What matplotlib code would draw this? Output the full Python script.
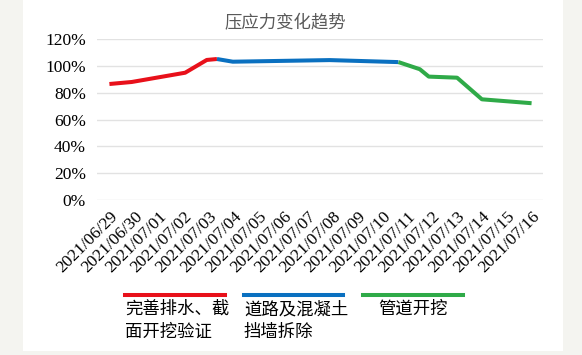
import matplotlib.pyplot as plt
from matplotlib.lines import Line2D
from matplotlib.patches import Rectangle
from matplotlib.ticker import FuncFormatter

plt.rcParams['font.family'] = ['serif']
plt.rcParams['font.serif'] = ['Liberation Serif', 'Times New Roman', 'DejaVu Serif']

dates = ['2021/06/29', '2021/06/30', '2021/07/01', '2021/07/02', '2021/07/03',
         '2021/07/04', '2021/07/05', '2021/07/06', '2021/07/07', '2021/07/08',
         '2021/07/09', '2021/07/10', '2021/07/11', '2021/07/12', '2021/07/13',
         '2021/07/14', '2021/07/15', '2021/07/16']

# day offsets from 2021/06/29 and stress ratio (%)
red_x = [0, 0.9, 3.05, 3.92, 4.33]
red_y = [86.5, 88.0, 94.9, 104.4, 105.1]
blue_x = [4.33, 4.97, 8.87, 11.64]
blue_y = [105.1, 103.1, 104.3, 102.8]
green_x = [11.64, 12.5, 12.86, 14.0, 15.0, 17.0]
green_y = [102.8, 97.5, 92.0, 91.2, 75.1, 72.2]

stages = ['完善排水、截\n面开挖验证', '道路及混凝土\n挡墙拆除', '管道开挖']
colors = ['#E8101A', '#0A70C0', '#2FAA48']

fig = plt.figure(figsize=(5.82, 3.55), dpi=100, facecolor='#F4F4F0')
fig.patches.append(Rectangle((23 / 582, 4 / 355), 540 / 582, 351 / 355,
                             transform=fig.transFigure, facecolor='white',
                             edgecolor='none', zorder=-10))

ax = fig.add_axes([97 / 582, 1 - 200.2 / 355, 446 / 582, 161.2 / 355])
ax.set_facecolor('none')
ax.set_zorder(1)

lw = 2.9
ax.plot(red_x, red_y, color=colors[0], lw=lw, solid_capstyle='butt', zorder=3)
ax.plot(blue_x, blue_y, color=colors[1], lw=lw, solid_capstyle='butt', zorder=3)
ax.plot(green_x, green_y, color=colors[2], lw=lw, solid_capstyle='butt', zorder=3)

ax.set_xlim(-0.5, 17.46)
ax.set_ylim(0, 120)
ax.set_yticks(range(0, 121, 20))
ax.yaxis.set_major_formatter(FuncFormatter(lambda v, p: f'{int(v)}%'))
ax.set_xticks(range(len(dates)))
ax.set_xticklabels(dates, rotation=45, ha='right', rotation_mode='anchor')
ax.tick_params(axis='both', length=0, labelsize=12.5)
ax.tick_params(axis='x', pad=6)
ax.tick_params(axis='y', pad=8)
ax.grid(axis='y', color='#E2E2E2', lw=1)
ax.set_axisbelow(True)
for s in ax.spines.values():
    s.set_visible(False)

cjk = ['Noto Sans CJK SC', 'DejaVu Sans']
fig.text(285 / 582, 1 - 23 / 355, '压应力变化趋势', ha='center', va='center',
         fontsize=12.5, color='#595959', family=cjk)

# legend below the chart
leg_x = [(125, 225), (244, 343), (363, 463)]
for (x0, x1), c, label in zip(leg_x, colors, stages):
    fig.lines.append(Line2D([x0 / 582, x1 / 582], [1 - 294.7 / 355] * 2,
                            transform=fig.transFigure, color=c, lw=lw))
    if '\n' in label:
        fig.text(x0 / 582, 1 - 300 / 355, label, ha='left', va='top',
                 fontsize=12.5, linespacing=1.35, family=cjk)
    else:
        fig.text((x0 + x1) / 2 / 582, 1 - 300 / 355, label, ha='center',
                 va='top', fontsize=12.5, family=cjk)

fig.savefig('out.png', dpi=100, facecolor=fig.get_facecolor())
